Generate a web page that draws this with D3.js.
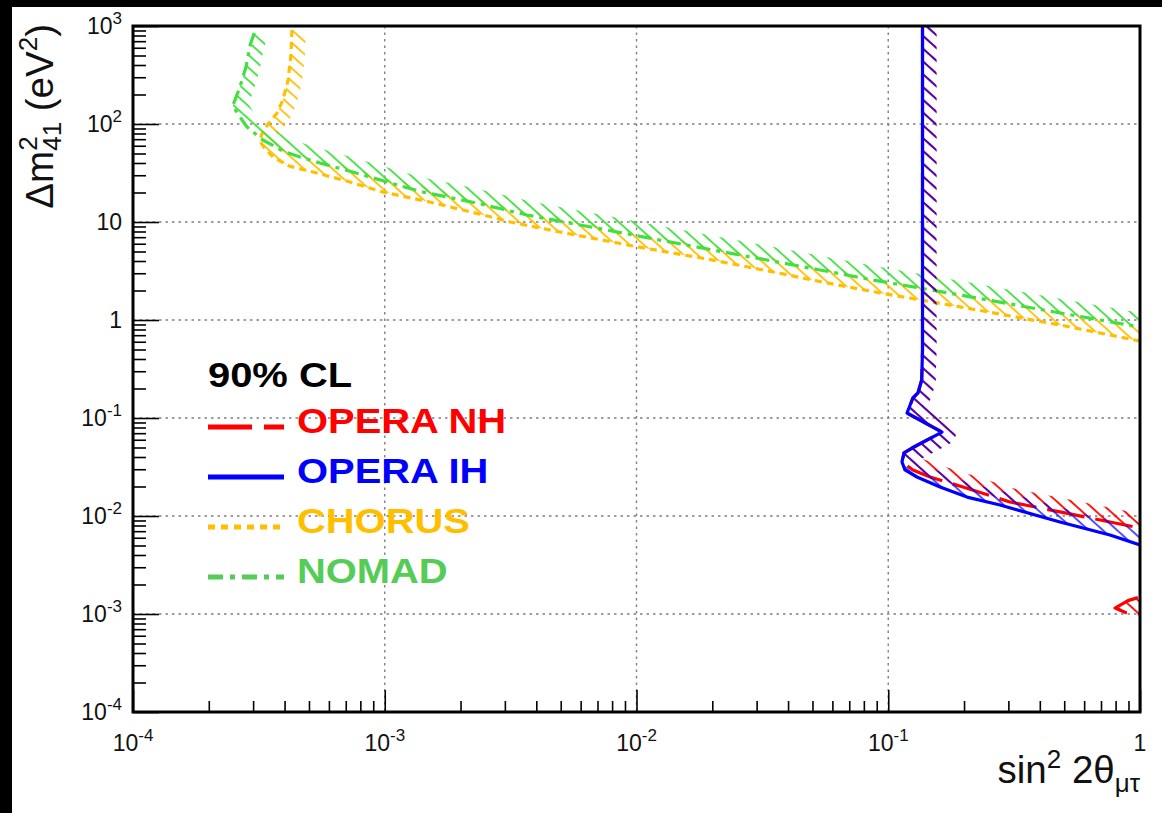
<!DOCTYPE html>
<html>
<head>
<meta charset="utf-8">
<script src="https://cdn.jsdelivr.net/npm/d3@7"></script>
<style>
  html, body { margin: 0; padding: 0; background: #000; }
  svg { display: block; }
  text { font-family: "Liberation Sans", Arial, Helvetica, sans-serif; }
</style>
</head>
<body>
<svg id="chart" width="1162" height="813"></svg>
<script>
// 90% CL exclusion contours in the (sin^2 2theta_mutau, dm^2_41) plane.

// NOMAD
const nomadS  = [3.03e-4, 2.92e-4, 2.81e-4, 2.66e-4, 2.49e-4, 2.66e-4, 2.84e-4, 3.28e-4, 3.94e-4, 4.61e-4, 5.53e-4, 7.28e-4, 1.12e-3, 1.42e-3, 2.32e-3, 3.67e-3, 4.66e-3, 7.63e-3, 9.68e-3, 0.0201, 0.033, 0.0536, 0.087, 0.193, 0.481, 1.0];
const nomadDm = [848, 640, 382, 239, 153, 118, 93, 68.7, 53, 46, 40, 33, 23.9, 20.2, 15.6, 11.8, 10.5, 8.28, 7.36, 5.18, 4.09, 3.24, 2.56, 1.80, 1.18, 0.848];

// CHORUS
const chorusS  = [4.28e-4, 4.24e-4, 4.13e-4, 3.94e-4, 3.73e-4, 3.44e-4, 3.25e-4, 3.19e-4, 3.31e-4, 3.60e-4, 4.20e-4, 5.38e-4, 7.28e-4, 9.84e-4, 1.51e-3, 2.46e-3, 3.15e-3, 4.97e-3, 9.68e-3, 0.0201, 0.0349, 0.0571, 0.0927, 0.193, 0.481, 1.0];
const chorusDm = [910, 506, 281, 176, 129, 100, 79, 67, 58, 46, 37, 31.6, 25.6, 20.2, 16.0, 11.8, 10.0, 7.91, 5.69, 4.09, 3.09, 2.39, 1.89, 1.36, 0.89, 0.61];

// OPERA, inverted hierarchy
const operaIhS  = [0.1368, 0.1368, 0.1358, 0.1312, 0.1253, 0.1187, 0.1635, 0.1243, 0.1155, 0.1134, 0.1165, 0.130, 0.1606, 0.2055, 0.278, 0.481, 0.76, 1.0];
const operaIhDm = [1000, 0.494, 0.244, 0.18, 0.16, 0.1125, 0.0719, 0.0494, 0.044, 0.0356, 0.0295, 0.025, 0.0198, 0.0156, 0.01294, 0.00869, 0.0064, 0.00506];

// OPERA, normal hierarchy (main contour and small island at low dm^2)
const operaNhS  = [0.1368, 0.1368, 0.1358, 0.1312, 0.1253, 0.1187, 0.1635, 0.1243, 0.1155, 0.1134, 0.1253, 0.1466, 0.198, 0.3045, 0.481, 0.76, 1.0];
const operaNhDm = [1000, 0.494, 0.244, 0.18, 0.16, 0.1125, 0.0719, 0.0494, 0.044, 0.0356, 0.0295, 0.025, 0.0198, 0.0139, 0.011, 0.00869, 0.00755];
const operaNhIslandS  = [0.981, 0.896, 0.796, 0.871, 1.0];
const operaNhIslandDm = [0.00147, 0.00137, 0.00115, 0.00104, 0.001];

// Axis decades and their labels
const xDecades = [1e-4, 1e-3, 1e-2, 1e-1, 1];
const xTickLabels = ["10^-4", "10^-3", "10^-2", "10^-1", "1"];
const yDecades = [1e-4, 1e-3, 1e-2, 1e-1, 1, 10, 1e2, 1e3];
const yTickLabels = ["10^-4", "10^-3", "10^-2", "10^-1", "1", "10", "10^2", "10^3"];

const legendTitle = "90% CL";
const legendLabels = ["OPERA NH", "OPERA IH", "CHORUS", "NOMAD"];

// ---- styles ----
const C = { nh: "#ff0000", ih: "#0000ff", chorus: "#ffbf00", nomad: "#3fe03f" };
const textColors = { nh: "#ff0000", ih: "#0000ff", chorus: "#ffbf00", nomad: "#55cc55" };
const dashes = { nh: "38 11", ih: null, chorus: "7 5", nomad: "14 6 4 6" };
const legendDashes = { nh: "44 12", ih: null, chorus: "7 6", nomad: "15 7 5 7" };

const W = 1162, H = 813;
const plot = { left: 133, right: 1140, top: 26, bottom: 712 };

const svg = d3.select("#chart");
svg.append("rect").attr("width", W).attr("height", H).attr("fill", "#000");
svg.append("rect").attr("x", 12).attr("y", 7).attr("width", W - 12).attr("height", H - 7).attr("fill", "#fff");

const x = d3.scaleLog().domain([1e-4, 1]).range([plot.left, plot.right]);
const y = d3.scaleLog().domain([1e-4, 1e3]).range([plot.bottom, plot.top]);

const defs = svg.append("defs");
defs.append("clipPath").attr("id", "plotClip")
  .append("rect")
  .attr("x", plot.left).attr("y", plot.top)
  .attr("width", plot.right - plot.left).attr("height", plot.bottom - plot.top);

// ---- grid ----
const grid = svg.append("g").attr("stroke", "#808080").attr("stroke-width", 1.4)
  .attr("stroke-dasharray", "2.5 4");
grid.selectAll("line.vx").data(xDecades).join("line")
  .attr("x1", d => x(d)).attr("x2", d => x(d))
  .attr("y1", plot.top).attr("y2", plot.bottom);
grid.selectAll("line.hy").data(yDecades).join("line")
  .attr("x1", plot.left).attr("x2", plot.right)
  .attr("y1", d => y(d)).attr("y2", d => y(d));

// ---- ticks (inward, ROOT style) ----
function minorsOf(decades) {
  const out = [];
  decades.slice(0, -1).forEach(d => { for (let k = 2; k <= 9; k++) out.push(d * k); });
  return out;
}
const xMinor = minorsOf(xDecades), yMinor = minorsOf(yDecades);

function styleAxis(g) {
  g.select(".domain").remove();
  g.selectAll(".tick line").attr("stroke", "#000").attr("stroke-width", 1.6);
}
svg.append("g").attr("transform", `translate(0,${plot.bottom})`)
  .call(d3.axisBottom(x).tickValues(xMinor).tickSize(-11).tickFormat("")).call(styleAxis);
svg.append("g").attr("transform", `translate(0,${plot.bottom})`)
  .call(d3.axisBottom(x).tickValues(xDecades).tickSize(-22).tickFormat("")).call(styleAxis);
svg.append("g").attr("transform", `translate(${plot.left},0)`)
  .call(d3.axisLeft(y).tickValues(yMinor).tickSize(-13).tickFormat("")).call(styleAxis);
svg.append("g").attr("transform", `translate(${plot.left},0)`)
  .call(d3.axisLeft(y).tickValues(yDecades).tickSize(-26).tickFormat("")).call(styleAxis);

// ---- tick labels with superscripts ----
function powerLabel(sel, label, size, supSize, supShift) {
  const parts = label.split("^");
  sel.append("tspan").attr("font-size", size).text(parts[0]);
  if (parts[1]) sel.append("tspan").attr("font-size", supSize).attr("dy", -supShift).text(parts[1]);
}
xDecades.forEach((v, i) => {
  const t = svg.append("text").attr("x", x(v)).attr("y", 751)
    .attr("text-anchor", "middle").attr("fill", "#111");
  powerLabel(t, xTickLabels[i], 23, 17, 10);
});
yDecades.forEach((v, i) => {
  const t = svg.append("text").attr("x", 122).attr("y", y(v) + 8)
    .attr("text-anchor", "end").attr("fill", "#111");
  powerLabel(t, yTickLabels[i], 23, 17, 10);
});

// ---- hatched exclusion contours ----
const line = d3.line().x(d => x(d[0])).y(d => y(d[1]));
const plotArea = svg.append("g").attr("clip-path", "url(#plotClip)");

function hatchPattern(id, color) {
  const p = defs.append("pattern").attr("id", id)
    .attr("patternUnits", "userSpaceOnUse")
    .attr("width", 9.5).attr("height", 20)
    .attr("patternTransform", "rotate(-48)");
  p.append("line").attr("x1", 2).attr("x2", 2).attr("y1", 0).attr("y2", 20)
    .attr("stroke", color).attr("stroke-width", 1.8);
}

function contour(id, sVals, dmVals, color, dash, hatchOpacity) {
  const pts = d3.zip(sVals, dmVals);
  const px = pts.map(d => [x(d[0]), y(d[1])]);
  const first = px[0], last = px[px.length - 1];
  const farRight = plot.right + 120;
  // excluded side: to the right of the contour
  const region = px.concat([[farRight, last[1]], [farRight, first[1]]]);
  defs.append("clipPath").attr("id", "side-" + id)
    .append("path").attr("d", "M" + region.map(p => p.join(",")).join("L") + "Z");
  const m = defs.append("mask").attr("id", "band-" + id)
    .attr("maskUnits", "userSpaceOnUse")
    .attr("x", 0).attr("y", 0).attr("width", W).attr("height", H);
  m.append("path").attr("d", line(pts)).attr("fill", "none")
    .attr("stroke", "#fff").attr("stroke-width", 28).attr("stroke-linejoin", "round");
  hatchPattern("hatch-" + id, color);

  plotArea.append("g").attr("clip-path", `url(#side-${id})`)
    .append("rect")
    .attr("x", plot.left).attr("y", plot.top)
    .attr("width", plot.right - plot.left).attr("height", plot.bottom - plot.top)
    .attr("fill", `url(#hatch-${id})`).attr("mask", `url(#band-${id})`)
    .attr("opacity", hatchOpacity);

  plotArea.append("path").attr("d", line(pts)).attr("fill", "none")
    .attr("stroke", color).attr("stroke-width", 3.2)
    .attr("stroke-dasharray", dash).attr("stroke-linejoin", "round");
}

contour("chorus", chorusS, chorusDm, C.chorus, dashes.chorus, 1);
contour("nomad", nomadS, nomadDm, C.nomad, dashes.nomad, 1);
contour("nh", operaNhS, operaNhDm, C.nh, dashes.nh, 1);
contour("nhIsland", operaNhIslandS, operaNhIslandDm, C.nh, dashes.nh, 1);
contour("ih", operaIhS, operaIhDm, C.ih, dashes.ih, 0.75);

// ---- frame ----
svg.append("rect")
  .attr("x", plot.left).attr("y", plot.top)
  .attr("width", plot.right - plot.left).attr("height", plot.bottom - plot.top)
  .attr("fill", "none").attr("stroke", "#000").attr("stroke-width", 3);

// ---- legend ----
const legend = svg.append("g");
function legendText(tx, ty, label, color) {
  legend.append("text")
    .attr("transform", `translate(${tx},${ty}) scale(1.14,1)`)
    .attr("font-size", 35).attr("font-weight", "bold").attr("fill", color)
    .text(label);
}
legendText(208, 387, legendTitle, "#000");
const keys = ["nh", "ih", "chorus", "nomad"];
keys.forEach((k, i) => {
  const base = 433 + i * 50;
  legend.append("line")
    .attr("x1", 208).attr("x2", 284).attr("y1", base - 6).attr("y2", base - 6)
    .attr("stroke", textColors[k]).attr("stroke-width", 5)
    .attr("stroke-dasharray", legendDashes[k]);
  legendText(297, base, legendLabels[i], textColors[k]);
});

// ---- axis titles ----
const xt = svg.append("text").attr("x", plot.right).attr("y", 783)
  .attr("text-anchor", "end").attr("fill", "#111").attr("font-size", 38.5);
xt.append("tspan").text("sin");
xt.append("tspan").attr("font-size", 26).attr("dy", -15).text("2");
xt.append("tspan").attr("dy", 15).text("\u00a02\u03b8");
xt.append("tspan").attr("font-size", 26).attr("dy", 9).text("\u03bc\u03c4");

// width of the stacked superscript, to place the subscript under it
const probe = svg.append("text").attr("font-size", 26).text("2");
const supW = probe.node().getComputedTextLength();
probe.remove();

const yt = svg.append("g").attr("transform", "translate(53,24) rotate(-90)")
  .append("text").attr("text-anchor", "end").attr("fill", "#111").attr("font-size", 38.5);
yt.append("tspan").text("\u0394m");
yt.append("tspan").attr("font-size", 26).attr("dy", -16).text("2");
yt.append("tspan").attr("font-size", 26).attr("dx", -supW).attr("dy", 24).text("41");
yt.append("tspan").attr("dy", -8).text("\u00a0(eV");
yt.append("tspan").attr("font-size", 26).attr("dy", -16).text("2");
yt.append("tspan").attr("dy", 16).text(")");
</script>
</body>
</html>
